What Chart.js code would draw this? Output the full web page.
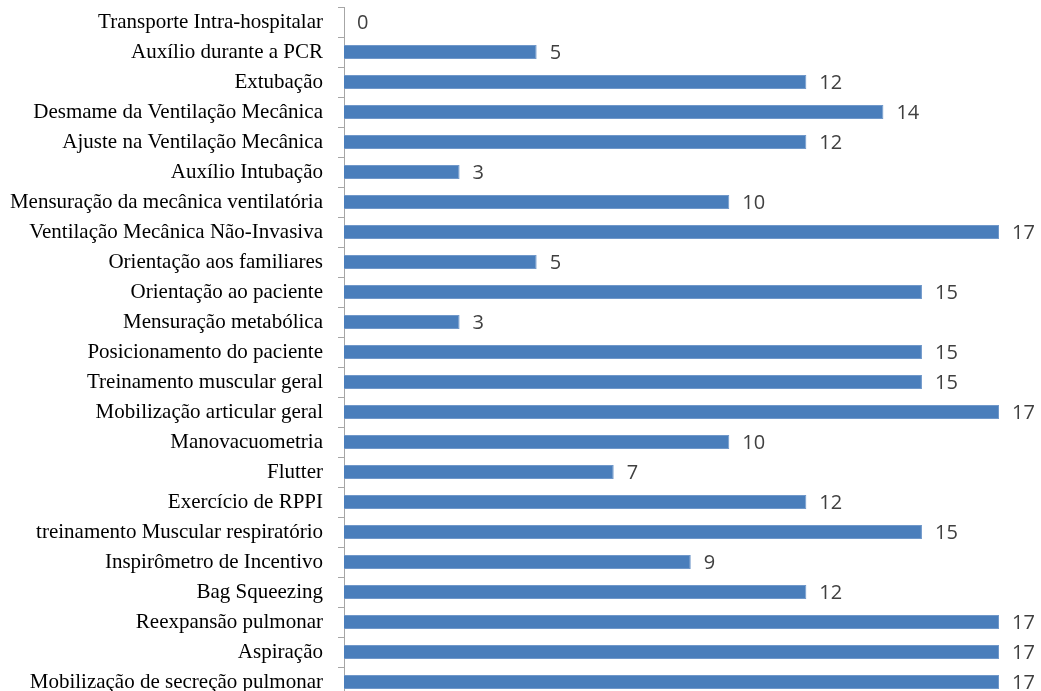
<!DOCTYPE html>
<html>
<head>
<meta charset="utf-8">
<script src="https://cdn.jsdelivr.net/npm/chart.js@4/dist/chart.umd.min.js"></script>
<style>
  html, body { margin: 0; padding: 0; background: #ffffff; overflow: hidden; }
  #wrap { width: 1041px; height: 700px; }
</style>
</head>
<body>
<div id="wrap"><canvas id="chart" width="1041" height="700"></canvas></div>
<script>
// Procedures (top to bottom) and how many times each was reported
const categories = [
  "Transporte Intra-hospitalar",
  "Auxílio durante a PCR",
  "Extubação",
  "Desmame da Ventilação Mecânica",
  "Ajuste na Ventilação Mecânica",
  "Auxílio Intubação",
  "Mensuração da mecânica ventilatória",
  "Ventilação Mecânica Não-Invasiva",
  "Orientação aos familiares",
  "Orientação ao paciente",
  "Mensuração metabólica",
  "Posicionamento do paciente",
  "Treinamento muscular geral",
  "Mobilização articular geral",
  "Manovacuometria",
  "Flutter",
  "Exercício de RPPI",
  "treinamento Muscular respiratório",
  "Inspirômetro de Incentivo",
  "Bag Squeezing",
  "Reexpansão pulmonar",
  "Aspiração",
  "Mobilização de secreção pulmonar"
];
const counts = [0, 5, 12, 14, 12, 3, 10, 17, 5, 15, 3, 15, 15, 17, 10, 7, 12, 15, 9, 12, 17, 17, 17];
const axisMax = 17;

// Writes each bar's value just past its end
const valueLabels = {
  id: 'valueLabels',
  afterDatasetsDraw(chart) {
    const ctx = chart.ctx;
    const meta = chart.getDatasetMeta(0);
    ctx.save();
    ctx.font = '20px "Open Sans", "Liberation Sans", sans-serif';
    ctx.fillStyle = '#404040';
    ctx.textAlign = 'left';
    ctx.textBaseline = 'middle';
    meta.data.forEach((bar, i) => {
      ctx.fillText(String(counts[i]), bar.x + 13, bar.y + 1);
    });
    ctx.restore();
  }
};

new Chart(document.getElementById('chart'), {
  type: 'bar',
  data: {
    labels: categories,
    datasets: [{
      data: counts,
      backgroundColor: '#4A7EBB',
      borderColor: '#7098CA',
      borderWidth: 1,
      borderSkipped: 'start',
      barPercentage: 0.47,
      categoryPercentage: 1.0
    }]
  },
  options: {
    indexAxis: 'y',
    responsive: false,
    animation: false,
    layout: { padding: { top: 7, bottom: 3, left: 0, right: 42 } },
    plugins: {
      legend: { display: false },
      tooltip: { enabled: false }
    },
    scales: {
      x: {
        display: false,
        min: 0,
        max: axisMax
      },
      y: {
        offset: true,
        afterFit(scale) {
          scale.width = 344;
          scale.paddingTop = 0;
          scale.paddingBottom = 0;
        },
        border: { display: true, color: '#A6A6A6', width: 1 },
        grid: {
          offset: true,
          drawOnChartArea: false,
          drawTicks: true,
          tickLength: 6,
          color: '#A6A6A6'
        },
        ticks: {
          autoSkip: false,
          padding: 15,
          color: '#000000',
          font: { family: '"Liberation Serif", "Times New Roman", serif', size: 21 }
        }
      }
    }
  },
  plugins: [valueLabels]
});
</script>
</body>
</html>
